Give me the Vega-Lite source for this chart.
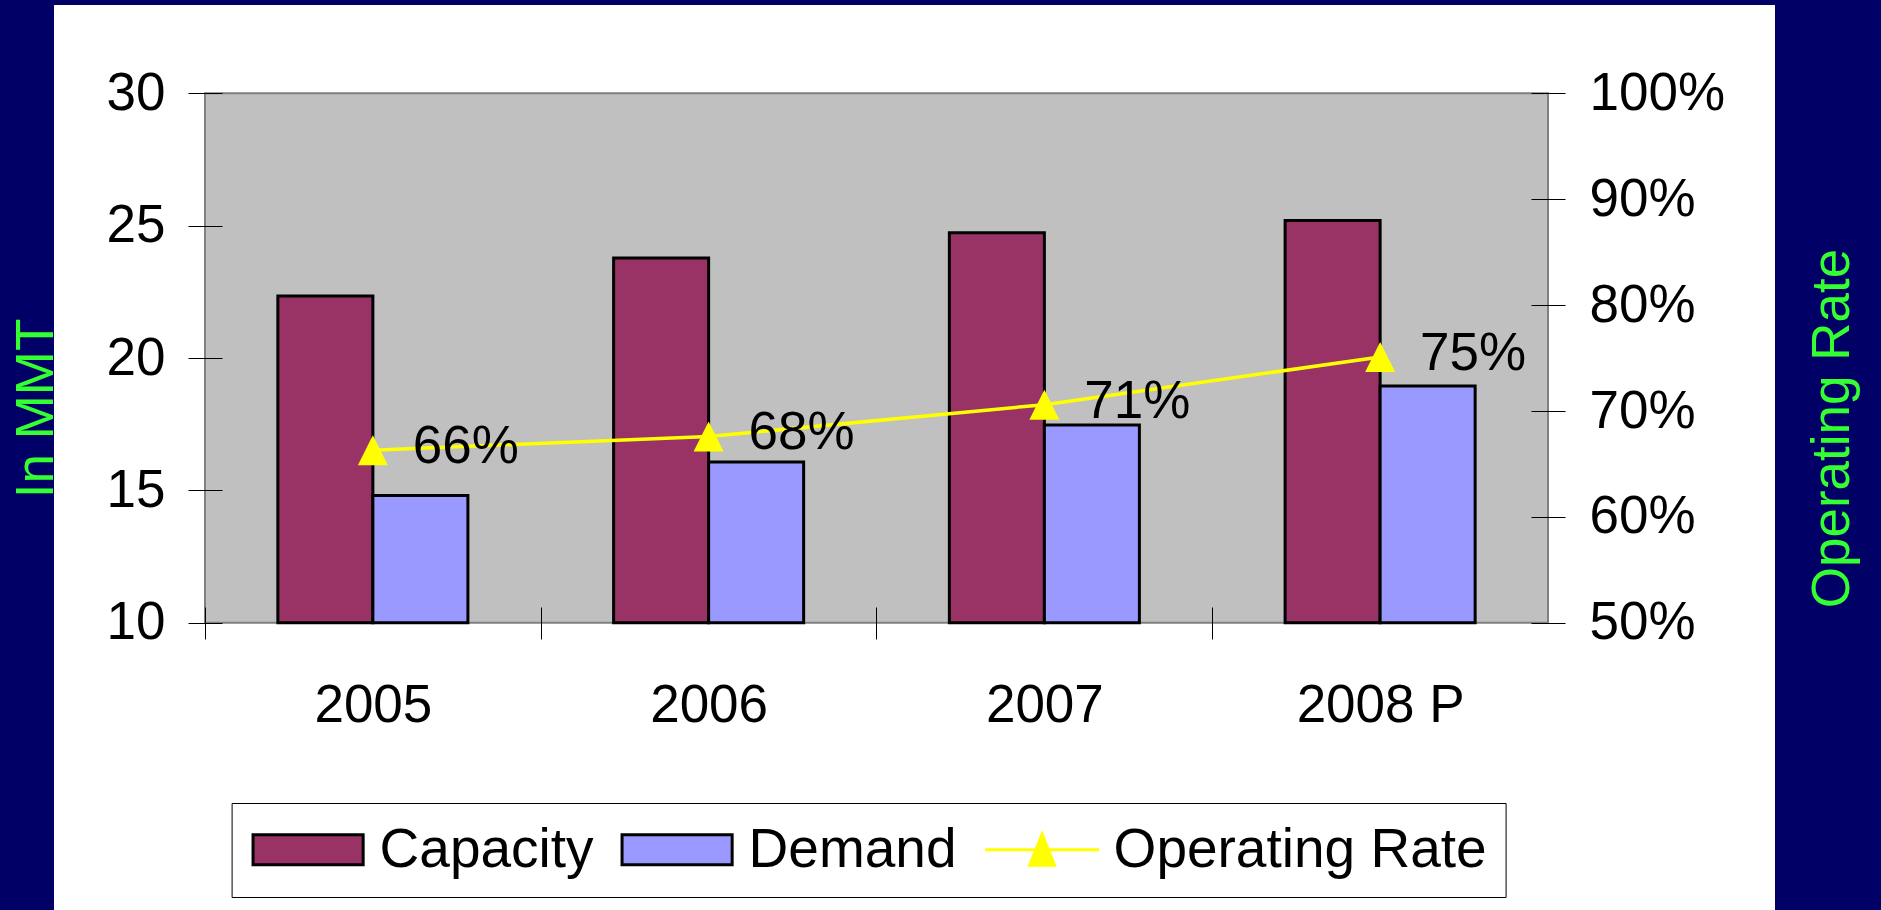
{
  "$schema": "https://vega.github.io/schema/vega-lite/v6.json",
  "width": 1721,
  "height": 905,
  "autosize": {"type": "none"},
  "padding": {"left": 54, "top": 5, "right": 106, "bottom": 0},
  "background": "#000066",
  "config": {"font": "Liberation Sans", "view": {"stroke": null, "fill": "#FFFFFF"}},
  "datasets": {
    "bars": [
      {"year": "2005", "series": "Capacity", "value": 22.34},
      {"year": "2005", "series": "Demand", "value": 14.81},
      {"year": "2006", "series": "Capacity", "value": 23.78},
      {"year": "2006", "series": "Demand", "value": 16.07},
      {"year": "2007", "series": "Capacity", "value": 24.73},
      {"year": "2007", "series": "Demand", "value": 17.47},
      {"year": "2008 P", "series": "Capacity", "value": 25.2},
      {"year": "2008 P", "series": "Demand", "value": 18.94}
    ],
    "rates": [
      {"year": "2005", "rate": 0.663},
      {"year": "2006", "rate": 0.676},
      {"year": "2007", "rate": 0.706},
      {"year": "2008 P", "rate": 0.751}
    ],
    "plot": [{"first": "2005", "last": "2008 P"}]
  },
  "resolve": {"scale": {"y": "independent"}},
  "layer": [
    {
      "layer": [
        {
          "data": {"name": "plot"},
          "mark": {"type": "rect", "fill": "#C0C0C0", "stroke": "#808080", "strokeWidth": 2},
          "encoding": {
            "x": {
              "field": "first", "type": "nominal", "bandPosition": -0.3834,
              "scale": {"type": "band", "paddingInner": 0.434, "paddingOuter": 0.77992, "align": 0.42744},
              "axis": {"orient": "bottom", "title": null, "domain": false, "grid": false, "offset": -303, "tickSize": 32, "tickOffset": -167.875, "labelOffset": 167.875, "tickColor": "#000000", "tickWidth": 1, "labelFontSize": 53, "labelColor": "#000000", "labelPadding": 40, "labelAngle": 0, "zindex": 1}
            },
            "x2": {"field": "last", "bandPosition": 1.3834},
            "y": {
              "datum": 10, "type": "quantitative",
              "scale": {"domain": [-0.848, 33.335], "nice": false, "zero": false},
              "axis": {"orient": "left", "values": [10, 15, 20, 25, 30], "domain": false, "grid": false, "offset": -168, "tickSize": 34, "tickColor": "#000000", "tickWidth": 1, "labelFontSize": 53, "labelColor": "#000000", "labelPadding": 23, "title": "In MMT", "titleFontSize": 53, "titleColor": "#33FF33", "titleFontWeight": "normal", "titleAngle": -90, "titleX": -186, "titleY": 403, "titleAlign": "center", "titleBaseline": "middle", "zindex": 1}
            },
            "y2": {"datum": 30}
          }
        },
        {
          "data": {"name": "bars"},
          "mark": {"type": "bar", "stroke": "#000000", "strokeWidth": 3},
          "encoding": {
            "x": {
              "field": "year", "type": "nominal",
              "scale": {"type": "band", "paddingInner": 0.434, "paddingOuter": 0.77992, "align": 0.42744},
              "axis": {"orient": "bottom", "title": null, "domain": false, "grid": false, "offset": -303, "tickSize": 32, "tickOffset": -167.875, "labelOffset": 167.875, "tickColor": "#000000", "tickWidth": 1, "labelFontSize": 53, "labelColor": "#000000", "labelPadding": 40, "labelAngle": 0, "zindex": 1}
            },
            "xOffset": {"field": "series", "type": "nominal", "scale": {"paddingInner": 0, "paddingOuter": 0}},
            "y": {
              "field": "value", "type": "quantitative",
              "scale": {"domain": [-0.848, 33.335], "nice": false, "zero": false},
              "axis": {"orient": "left", "values": [10, 15, 20, 25, 30], "domain": false, "grid": false, "offset": -168, "tickSize": 34, "tickColor": "#000000", "tickWidth": 1, "labelFontSize": 53, "labelColor": "#000000", "labelPadding": 23, "title": "In MMT", "titleFontSize": 53, "titleColor": "#33FF33", "titleFontWeight": "normal", "titleAngle": -90, "titleX": -186, "titleY": 403, "titleAlign": "center", "titleBaseline": "middle", "zindex": 1}
            },
            "y2": {"datum": 10},
            "color": {
              "field": "series", "type": "nominal",
              "scale": {"domain": ["Capacity", "Demand", "Operating Rate"], "range": ["#993366", "#9999FF", "#FFFF00"]},
              "legend": {
                "orient": "none", "legendX": 177.6, "legendY": 798, "direction": "horizontal", "title": null,
                "labelFontSize": 55, "labelColor": "#000000", "labelLimit": 1000, "labelOffset": 44,
                "columnPadding": 22, "padding": 19, "strokeColor": "#000000", "fillColor": "#FFFFFF",
                "symbolSize": 900, "symbolOffset": 30, "symbolStrokeWidth": 3, "symbolStrokeColor": "#000000", "symbolOpacity": 1,
                "encode": {
                  "symbols": {
                    "update": {
                      "shape": {"signal": "datum.value === 'Operating Rate' ? 'M-3.8,0H3.8M0,-1.03L0.83,1.03L-0.83,1.03Z' : 'M-3.67,-1H3.67V1H-3.67Z'"},
                      "stroke": {"signal": "datum.value === 'Operating Rate' ? '#FFFF00' : '#000000'"},
                      "strokeWidth": {"value": 3}
                    }
                  }
                }
              }
            }
          }
        }
      ]
    },
    {
      "data": {"name": "rates"},
      "encoding": {
        "x": {"field": "year", "type": "nominal"},
        "y": {
          "field": "rate", "type": "quantitative",
          "scale": {"domain": [0.2288, 1.0834], "nice": false, "zero": false},
          "axis": {"orient": "right", "values": [0.5, 0.6, 0.7, 0.8, 0.9, 1.0], "format": ".0%", "domain": false, "grid": false, "offset": -244, "tickSize": 34, "tickColor": "#000000", "tickWidth": 1, "labelFontSize": 53, "labelColor": "#000000", "labelPadding": 24, "title": "Operating Rate", "titleFontSize": 53, "titleColor": "#33FF33", "titleFontWeight": "normal", "titleAngle": -90, "titleX": 301, "titleY": 423, "titleAlign": "center", "titleBaseline": "middle", "zindex": 1}
        }
      },
      "layer": [
        {"mark": {"type": "line", "color": "#FFFF00", "strokeWidth": 3.5}},
        {"mark": {"type": "point", "shape": "M0,-1L1,1L-1,1Z", "size": 900, "filled": true, "color": "#FFFF00", "opacity": 1}},
        {
          "mark": {"type": "text", "align": "left", "baseline": "middle", "dx": 40, "dy": -3, "fontSize": 53, "color": "#000000"},
          "encoding": {"text": {"field": "rate", "type": "quantitative", "format": ".0%"}}
        }
      ]
    }
  ]
}
